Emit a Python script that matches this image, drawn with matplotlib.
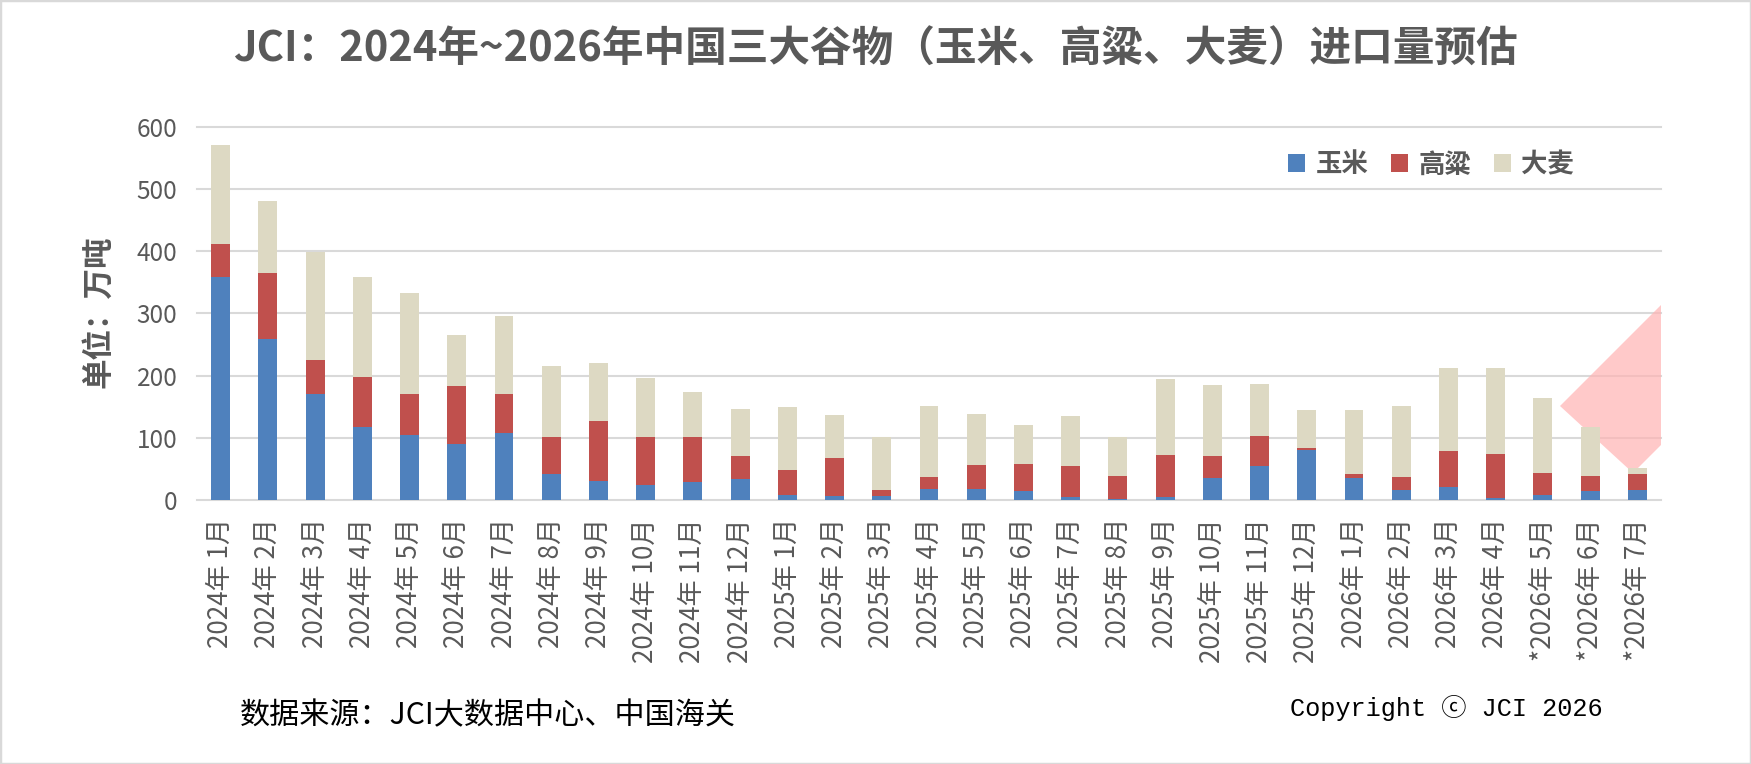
import matplotlib
matplotlib.use("Agg")
import matplotlib.pyplot as plt
from matplotlib.patches import Patch, Polygon, Rectangle
import numpy as np

plt.rcParams['font.family'] = ['Noto Sans CJK SC', 'DejaVu Sans']

# ---------------- data ----------------
months = ([f"2024年 {m}月" for m in range(1, 13)] +
          [f"2025年 {m}月" for m in range(1, 13)] +
          [f"2026年 {m}月" for m in range(1, 5)] +
          [f"*2026年 {m}月" for m in range(5, 8)])

corn = [359, 259, 170, 117, 104, 90, 108, 42, 31, 24, 29, 34,
        8, 6, 6, 18, 18, 15, 5, 1, 5, 36, 55, 80,
        36, 16, 21, 4, 8, 15, 16]
sorghum = [53, 106, 55, 81, 66, 93, 63, 59, 96, 77, 72, 37,
           40, 61, 10, 19, 38, 43, 50, 38, 67, 35, 48, 4,
           6, 21, 58, 70, 35, 24, 26]
barley = [158, 115, 174, 160, 162, 82, 124, 115, 94, 95, 72, 76,
          101, 70, 85, 114, 83, 62, 80, 62, 122, 114, 83, 61,
          103, 114, 133, 138, 121, 79, 9]

series_names = ["玉米", "高粱", "大麦"]
colors = ["#4F81BD", "#C0504D", "#DDD9C3"]
yticks = [0, 100, 200, 300, 400, 500, 600]

# ---------------- figure ----------------
W, H = 1751, 764
fig = plt.figure(figsize=(W / 100, H / 100), dpi=100)
fig.patch.set_facecolor("white")

left, right, bottom, top = 197, 1661, 500, 126.7
ax = fig.add_axes([left / W, 1 - bottom / H, (right - left) / W, (bottom - top) / H])

x = np.arange(len(months))
c = np.array(corn, float)
s = np.array(sorghum, float)
b = np.array(barley, float)
bw = 0.40
ax.bar(x, c, bw, color=colors[0], zorder=3, label=series_names[0])
ax.bar(x, s, bw, bottom=c, color=colors[1], zorder=3, label=series_names[1])
ax.bar(x, b, bw, bottom=c + s, color=colors[2], zorder=3, label=series_names[2])

ax.set_xlim(-0.5, len(months) - 0.5)
ax.set_ylim(0, 600)
ax.set_yticks(yticks)
ax.set_yticklabels([str(v) for v in yticks])
ax.set_xticks(x)
ax.set_xticklabels(months, rotation=90, va="top", ha="center")
ax.tick_params(axis="y", length=0, pad=14, labelsize=17.5, labelcolor="#595959")
ax.tick_params(axis="x", length=0, pad=13, labelsize=18.8, labelcolor="#595959")
for sp in ax.spines.values():
    sp.set_visible(False)
ax.yaxis.grid(True, color="#D9D9D9", linewidth=1.5, zorder=0)
ax.set_axisbelow(True)
for gl in ax.get_ygridlines():
    gl.set_clip_on(False)

# pink decorative shape (clipped to plot area)
def axfrac(px, py):
    return ((px - left) / (right - left), (bottom - py) / (bottom - top))

Lp = (1560, 406)
Bp = (1633, 473)
Tp = (Lp[0] + 150, Lp[1] - 150)
Rp = (Bp[0] + 150, Bp[1] - 150)
poly = Polygon([axfrac(*Lp), axfrac(*Bp), axfrac(*Rp), axfrac(*Tp)],
               closed=True, transform=ax.transAxes, facecolor="#FFB3B3",
               alpha=0.7, edgecolor="none", zorder=1)
ax.add_patch(poly)

# legend
handles = [Patch(facecolor=col, edgecolor="none", label=n) for n, col in zip(series_names, colors)]
leg = fig.legend(handles=handles, loc="center", bbox_to_anchor=(1431 / W, 1 - 165 / H),
                 ncol=3, frameon=False, handlelength=0.65, handleheight=0.65,
                 handletextpad=0.38, columnspacing=0.87,
                 prop={"size": 19, "weight": "bold"})
for t in leg.get_texts():
    t.set_color("#595959")

# title
fig.text(875 / W, 1 - 50 / H, "JCI：2024年~2026年中国三大谷物（玉米、高粱、大麦）进口量预估",
         ha="center", va="center", fontsize=30, fontweight="bold", color="#595959")

# y label
fig.text(98 / W, 1 - 312 / H, "单位：万吨", rotation=90, ha="center", va="center",
         fontsize=22, fontweight="bold", color="#595959")

# footer
fig.text(240 / W, 1 - 716 / H, "数据来源：JCI大数据中心、中国海关", ha="left", va="center",
         fontsize=21.7, color="black")
fig.text(1290 / W, 1 - 708 / H, "Copyright ⓒ JCI 2026", ha="left", va="center",
         fontsize=18.2, color="black", family=["Liberation Mono", "Noto Sans CJK SC", "DejaVu Sans"])

# border
fig.patches.append(Rectangle((0, 0), 1, 1, transform=fig.transFigure, fill=False,
                             edgecolor="#D9D9D9", linewidth=2.5, zorder=10))

fig.savefig("out.png", dpi=100, facecolor="white")
